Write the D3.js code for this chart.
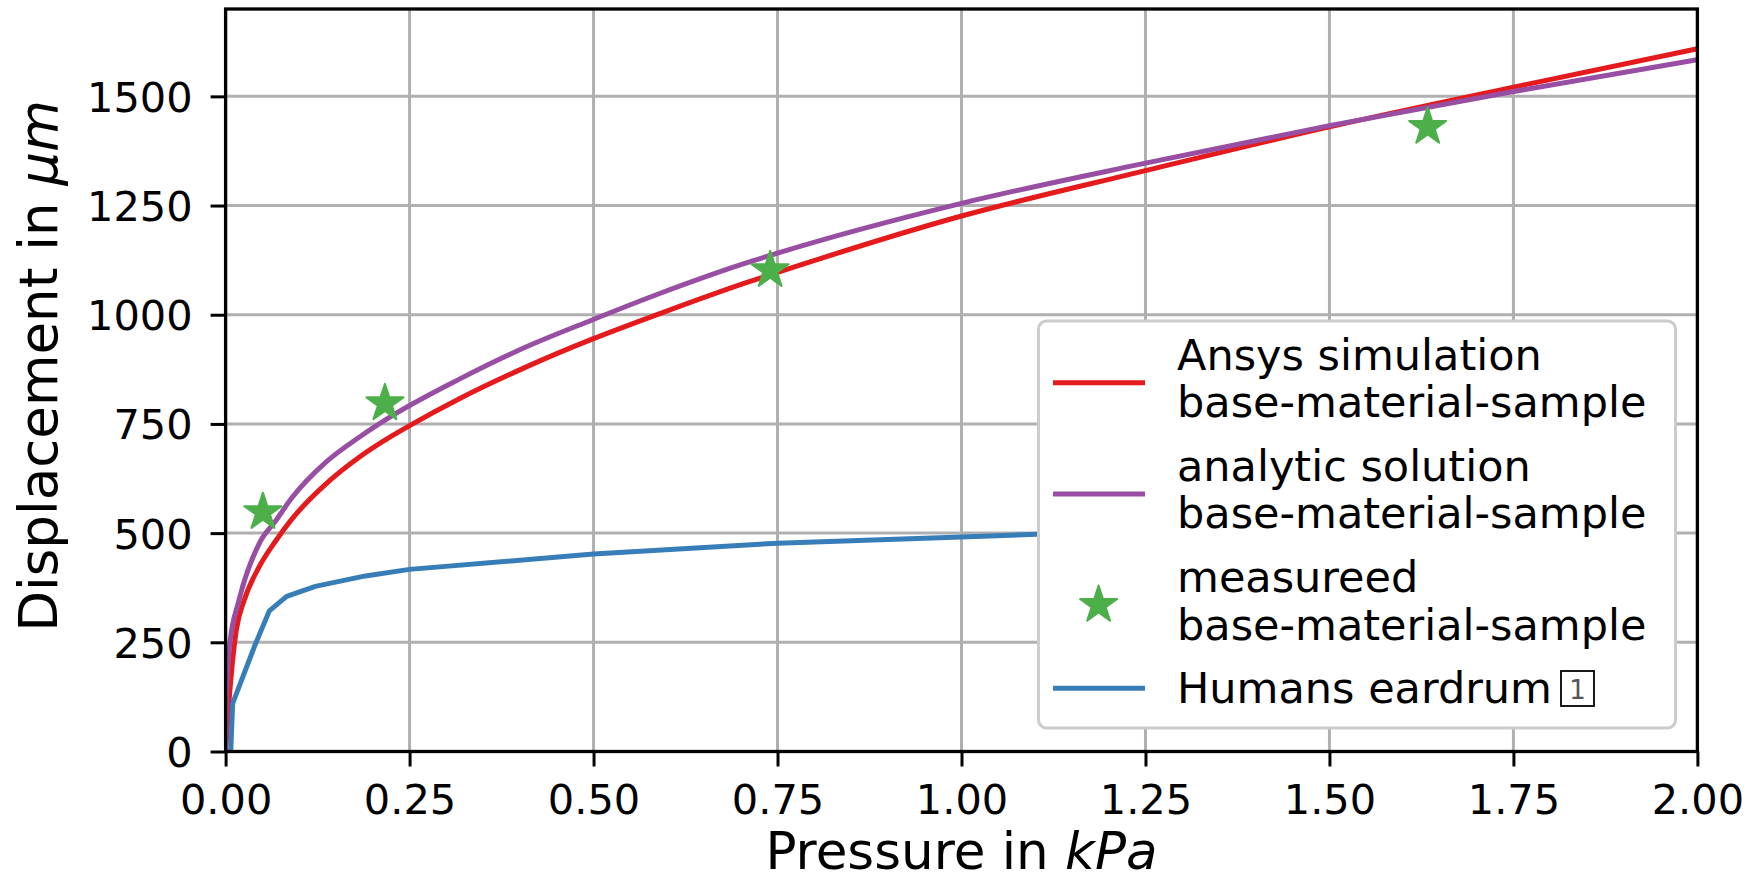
<!DOCTYPE html>
<html><head><meta charset="utf-8">
<script src="https://cdn.jsdelivr.net/npm/d3@7/dist/d3.min.js"></script>
<style>
body{margin:0;background:#fff}
text{font-family:"DejaVu Sans",sans-serif;fill:#000}
</style>
</head><body>
<svg id="chart" width="1751" height="882"></svg>
<script>
// ---- data ----
const ansysP = [0, 0.004, 0.0145, 0.025, 0.045, 0.068, 0.09, 0.136, 0.181, 0.2265, 0.25, 0.317, 0.408, 0.498, 0.589, 0.7065, 0.75, 1.0, 1.25, 1.5, 1.75, 2.0];
const ansysD = [0, 100, 277, 345, 421, 482, 532, 612, 673, 723, 746, 807, 880, 944, 1002, 1073, 1097, 1226, 1330, 1430, 1521, 1609];

const analyticP = [0, 0.001, 0.0055, 0.018, 0.0453, 0.068, 0.0906, 0.136, 0.181, 0.2265, 0.317, 0.408, 0.498, 0.589, 0.7065, 0.75, 1.0, 1.25, 1.5, 1.75, 2.0];
const analyticD = [0, 120, 244, 345, 475, 528, 582, 662, 719, 769, 852, 926, 988, 1048, 1118, 1141, 1255, 1347, 1433, 1511, 1584];

const measuredP = [0.0507, 0.2165, 0.740, 1.6335];
const measuredD = [548, 797, 1102, 1430];

const eardrumP = [0.007, 0.0096, 0.040, 0.0594, 0.083, 0.122, 0.19, 0.25, 0.5, 0.75, 1.0, 1.2];
const eardrumD = [0, 110, 244, 322, 355, 378, 402, 417, 452, 477, 491, 503];

const xTicks = [0, 0.25, 0.5, 0.75, 1.0, 1.25, 1.5, 1.75, 2.0];
const yTicks = [0, 250, 500, 750, 1000, 1250, 1500];

const legendLabels = [
  ["Ansys simulation", "base-material-sample"],
  ["analytic solution", "base-material-sample"],
  ["measureed", "base-material-sample"],
  ["Humans eardrum"]
];

// ---- layout ----
const L = 225.6, R = 1697.4, T = 9, B = 751.5;
const colors = {red:"#e41a1c", purple:"#984ea3", green:"#4daf4a", blue:"#377eb8"};

const svg = d3.select("#chart");
svg.append("rect").attr("width",1751).attr("height",882).attr("fill","#fff");

const x = d3.scaleLinear().domain([0, 2]).range([L, R]);
const y = d3.scaleLinear().domain([0, 1700]).range([B, T]);

const TICKFS = 41.5;

// grid
const grid = svg.append("g");
grid.selectAll(".gx").data(xTicks).join("line")
  .attr("x1", d=>x(d)).attr("x2", d=>x(d)).attr("y1", T).attr("y2", B)
  .attr("stroke","#b0b0b0").attr("stroke-width",3);
grid.selectAll(".gy").data(yTicks).join("line")
  .attr("y1", d=>y(d)).attr("y2", d=>y(d)).attr("x1", L).attr("x2", R)
  .attr("stroke","#b0b0b0").attr("stroke-width",3);

// clip
svg.append("clipPath").attr("id","clip").append("rect")
  .attr("x",L).attr("y",T).attr("width",R-L).attr("height",B-T);
const plot = svg.append("g").attr("clip-path","url(#clip)");

function zip(P, D){ return P.map((p,i)=>[p, D[i]]); }
const smooth = d3.line().x(d=>x(d[0])).y(d=>y(d[1])).curve(d3.curveMonotoneX);
const straight = d3.line().x(d=>x(d[0])).y(d=>y(d[1]));

plot.append("path").attr("d", smooth(zip(ansysP, ansysD)))
  .attr("fill","none").attr("stroke",colors.red).attr("stroke-width",5);
plot.append("path").attr("d", smooth(zip(analyticP, analyticD)))
  .attr("fill","none").attr("stroke",colors.purple).attr("stroke-width",5);

const star = d3.symbol().type(d3.symbolStar).size(19.5*19.5/0.8908130915292852);
plot.selectAll(".star").data(zip(measuredP, measuredD)).join("path")
  .attr("d", star())
  .attr("transform", d=>`translate(${x(d[0])},${y(d[1])})`)
  .attr("fill",colors.green).attr("stroke",colors.green)
  .attr("stroke-width",2).attr("stroke-linejoin","round");

plot.append("path").attr("d", straight(zip(eardrumP, eardrumD)))
  .attr("fill","none").attr("stroke",colors.blue).attr("stroke-width",5)
  .attr("stroke-linejoin","round");

// axes
const xAxis = d3.axisBottom(x).tickValues(xTicks).tickFormat(d3.format(".2f"))
  .tickSize(15).tickPadding(0);
const gx = svg.append("g").attr("transform",`translate(0,${B})`).call(xAxis);
gx.select(".domain").remove();
gx.selectAll(".tick line").attr("stroke","#000").attr("stroke-width",3);
gx.selectAll(".tick text").attr("font-size",TICKFS).attr("font-family","DejaVu Sans")
  .attr("fill","#000").attr("y",62.5).attr("dy",0);

const yAxis = d3.axisLeft(y).tickValues(yTicks).tickFormat(d3.format("d"))
  .tickSize(15).tickPadding(0);
const gy = svg.append("g").attr("transform",`translate(${L},0)`).call(yAxis);
gy.select(".domain").remove();
gy.selectAll(".tick line").attr("stroke","#000").attr("stroke-width",3);
gy.selectAll(".tick text").attr("font-size",TICKFS).attr("font-family","DejaVu Sans")
  .attr("fill","#000").attr("x",-33).attr("dy","0.36em");

// spines
svg.append("rect").attr("x",L).attr("y",T).attr("width",R-L).attr("height",B-T)
  .attr("fill","none").attr("stroke","#000").attr("stroke-width",3.3);

// axis labels
const xl = svg.append("text").attr("x",(L+R)/2).attr("y",869)
  .attr("text-anchor","middle").attr("font-size",51.5);
xl.append("tspan").text("Pressure in ");
xl.append("tspan").attr("font-style","italic").text("kPa");

const yl = svg.append("text").attr("transform",`translate(57,366) rotate(-90)`)
  .attr("text-anchor","middle").attr("font-size",53);
yl.append("tspan").text("Displacement in ");
yl.append("tspan").attr("font-style","italic").text("μm");

// legend
const lg = svg.append("g");
lg.append("rect").attr("x",1038.5).attr("y",321).attr("width",637).attr("height",407)
  .attr("rx",8).attr("ry",8).attr("fill","#fff").attr("stroke","#cccccc").attr("stroke-width",3);

const LFS = 43;
const handleY = [382.7, 494, 605, 688.3];
const baseY = [[370, 416.7], [480.7, 528.3], [591.7, 640], [702.7]];
const handleColors = [colors.red, colors.purple, colors.green, colors.blue];
legendLabels.forEach((lines, i) => {
  if (i === 2) {
    lg.append("path").attr("d", star())
      .attr("transform",`translate(1098.6,${handleY[i]})`)
      .attr("fill",colors.green).attr("stroke",colors.green)
      .attr("stroke-width",2).attr("stroke-linejoin","round");
  } else {
    lg.append("line").attr("x1",1053).attr("x2",1145)
      .attr("y1",handleY[i]).attr("y2",handleY[i])
      .attr("stroke",handleColors[i]).attr("stroke-width",5);
  }
  lines.forEach((t, j) => {
    lg.append("text").attr("x",1177).attr("y",baseY[i][j]).attr("font-size",LFS).text(t);
  });
});
// missing-glyph box after "Humans eardrum"
lg.append("rect").attr("x",1561).attr("y",671).attr("width",33).attr("height",35)
  .attr("fill","none").attr("stroke","#000").attr("stroke-width",1.8);
lg.append("text").attr("x",1577.5).attr("y",699).attr("text-anchor","middle")
  .attr("font-size",26).attr("fill","#555").style("fill","#555").text("1");
</script>
</body></html>
